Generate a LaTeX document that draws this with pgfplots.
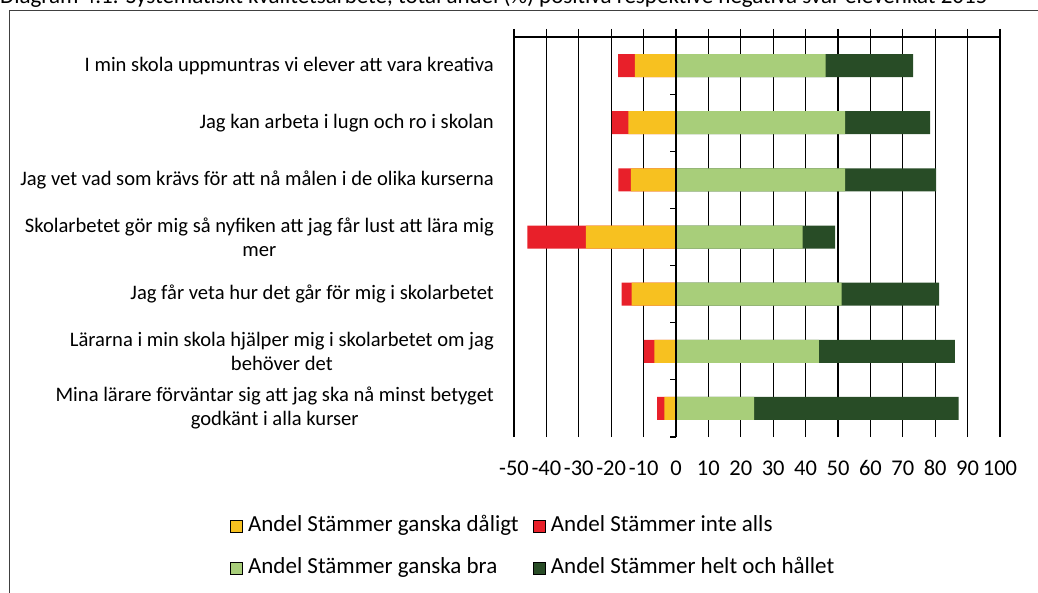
\documentclass[border=0pt]{standalone}
\usepackage{pgfplots}
\pgfplotsset{compat=1.18}
\usepackage{pgfplotstable}
\usepackage{fontspec}
\setmainfont{Carlito}
\definecolor{cyellow}{RGB}{247,193,32}
\definecolor{cred}{RGB}{232,32,42}
\definecolor{clight}{RGB}{168,206,122}
\definecolor{cdark}{RGB}{40,76,38}
\pgfplotstableread{
y daligt inte bra helt
7 12.7 5.2 46.2 27.0
6 14.7 5.1 52.2 26.2
5 13.9 3.9 52.2 28.1
4 27.8 18.1 39.1 10.0
3 13.7 3.1 51.1 30.1
2 6.7 3.2 44.1 42.0
1 3.6 2.2 24.1 63.1
}\data
\begin{document}
\begin{tikzpicture}[x=1pt,y=1pt]
\node[anchor=base west, inner sep=0pt, font=\fontsize{23}{27}\selectfont] at (0pt,-4pt)
  {Diagram 4.1: Systematiskt kvalitetsarbete, total andel (\%) positiva respektive negativa svar elevenkät 2015};
\draw[line width=1.3pt, black!75] (9.5pt,-600pt) -- (9.5pt,-10.5pt) -- (1050pt,-10.5pt);
\begin{axis}[
  at={(514pt,-437pt)}, anchor=south west,
  scale only axis, width=486pt, height=400pt,
  xmin=-50, xmax=100, ymin=0.5, ymax=7.5,
  separate axis lines,
  every outer x axis line/.append style={draw=none},
  every outer y axis line/.append style={draw=none},
  xtick pos=upper,
  xticklabel pos=lower,
  xtick={-50,-40,-30,-20,-10,0,10,20,30,40,50,60,70,80,90,100},
  xticklabels={-50,-40,-30,-20,-10,0,10,20,30,40,50,60,70,80,90,100},
  xticklabel style={anchor=base, inner sep=0pt, yshift=-30.5pt, font=\fontsize{22.5}{27}\selectfont},
  tick align=outside, major tick length=8pt,
  xtick style={black, line width=1.1pt},
  xmajorgrids, grid style={black, line width=1.1pt},
  ytick={1,2,3,4,5,6,7},
  ytick style={draw=none},
  yticklabel pos=left,
  yticklabels={
    {Mina lärare förväntar sig att jag ska nå minst betyget\\godkänt i alla kurser},
    {Lärarna i min skola hjälper mig i skolarbetet om jag\\behöver det},
    {Jag får veta hur det går för mig i skolarbetet},
    {Skolarbetet gör mig så nyfiken att jag får lust att lära mig\\mer},
    {Jag vet vad som krävs för att nå målen i de olika kurserna},
    {Jag kan arbeta i lugn och ro i skolan},
    {I min skola uppmuntras vi elever att vara kreativa}},
  yticklabel style={anchor=east, align=center, inner sep=0pt, xshift=-12pt, font=\fontsize{20.6}{24}\selectfont},
  bar width=23pt, bar shift=0pt,
  clip=false,
  legend columns=2,
  legend cell align=left,
  legend image code/.code={\fill[#1] (0pt,-6pt) rectangle (12pt,6pt);},
  legend style={draw=none, fill=none, at={(axis description cs:-0.5844,-0.1925)}, anchor=north west,
    inner sep=0pt, font=\fontsize{23}{28}\selectfont, row sep=18pt,
    nodes={inner sep=1.5pt, text height=16pt, text depth=5pt},
    /tikz/every odd column/.append style={column sep=4pt},
    /tikz/every even column/.append style={column sep=13pt}},
]
\addlegendimage{fill=cyellow}
\addlegendentry{Andel Stämmer ganska dåligt}
\addlegendimage{fill=cred}
\addlegendentry{Andel Stämmer inte alls}
\addlegendimage{fill=clight}
\addlegendentry{Andel Stämmer ganska bra}
\addlegendimage{fill=cdark}
\addlegendentry{Andel Stämmer helt och hållet}
\addplot[xbar, fill=cred, draw=none, forget plot] table[y=y, x expr={-(\thisrow{daligt}+\thisrow{inte})}] {\data};
\addplot[xbar, fill=cyellow, draw=none, forget plot] table[y=y, x expr={-\thisrow{daligt}}] {\data};
\addplot[xbar, fill=cdark, draw=none, forget plot] table[y=y, x expr={\thisrow{bra}+\thisrow{helt}}] {\data};
\addplot[xbar, fill=clight, draw=none, forget plot] table[y=y, x=bra] {\data};
\draw[black, line width=1.2pt] (rel axis cs:0,1) -- (rel axis cs:1,1);
\draw[black, line width=1.2pt] (axis cs:0,0.5) -- (axis cs:0,7.5);
\pgfplotsinvokeforeach{0.5,1.5,2.5,3.5,4.5,5.5,6.5}{
  \draw[black, line width=1.1pt] (axis cs:0,#1) -- ++(-6pt,0pt);
}
\end{axis}
\pgfresetboundingbox
\path[use as bounding box] (0pt,0pt) rectangle (1038pt,-593pt);
\end{tikzpicture}
\end{document}
